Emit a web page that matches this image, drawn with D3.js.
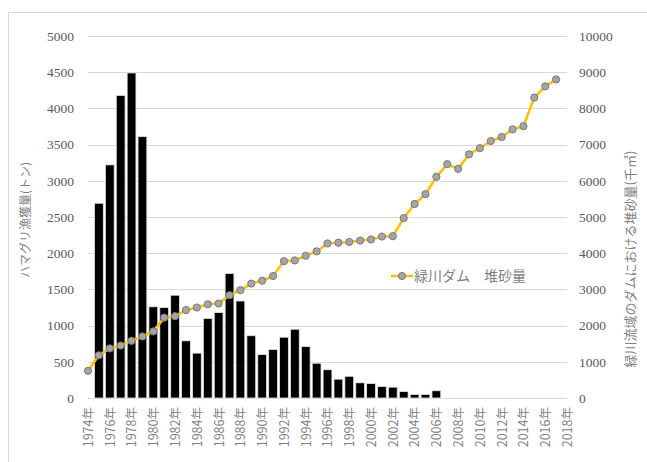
<!DOCTYPE html>
<html>
<head>
<meta charset="utf-8">
<script src="https://cdn.jsdelivr.net/npm/d3@7/dist/d3.min.js"></script>
<style>
  html, body { margin: 0; padding: 0; background: #fff; }
  svg { display: block; }
</style>
</head>
<body>
<svg id="chart" width="647" height="462"></svg>
<script>
// Years on the category axis
const years = d3.range(1974, 2019);

// Clam catch (tonnes), 1975–2006
const catchYears = d3.range(1975, 2007);
const catchTons = [
  2690, 3220, 4180, 4490, 3610, 1260, 1250, 1420, 790, 620,
  1100, 1180, 1720, 1340, 860, 600, 670, 840, 950, 710,
  480, 390, 260, 300, 210, 200, 160, 150, 90, 50,
  50, 100
];

// Accumulated dam sediment (thousand m³), 1974–2017
const sedimentYears = d3.range(1974, 2018);
const sediment = [
  750, 1180, 1370, 1450, 1580, 1700, 1840, 2220, 2260, 2430,
  2500, 2590, 2610, 2840, 2980, 3160, 3240, 3370, 3780, 3800,
  3930, 4050, 4270, 4290, 4310, 4350, 4380, 4460, 4470, 4970,
  5360, 5630, 6110, 6460, 6330, 6730, 6900, 7100, 7210, 7420,
  7510, 8300, 8610, 8800
];

const leftTicks = d3.range(0, 5001, 500);
const rightTicks = d3.range(0, 10001, 1000);
const labelYears = years.filter(y => y % 2 === 0);

const leftTitle = "ハマグリ漁獲量(トン)";
const rightTitle = "緑川流域のダムにおける堆砂量(千㎥)";
const legendLabel = "緑川ダム　堆砂量";

const svg = d3.select("#chart");
const plot = { left: 88, right: 567, top: 36, bottom: 398 };

const x = d3.scalePoint().domain(years).range([plot.left, plot.right]);
const yL = d3.scaleLinear().domain([0, 5000]).range([plot.bottom, plot.top]);
const yR = d3.scaleLinear().domain([0, 10000]).range([plot.bottom, plot.top]);

const serif = "'Liberation Serif', 'Times New Roman', serif";
const jp = "'Noto Sans CJK JP', 'Noto Sans', sans-serif";

// chart frame
svg.append("rect")
  .attr("x", 8.5).attr("y", 12.5)
  .attr("width", 660).attr("height", 480)
  .attr("fill", "none").attr("stroke", "#d9d9d9");

// horizontal gridlines
svg.append("g")
  .selectAll("line")
  .data(leftTicks)
  .join("line")
  .attr("x1", plot.left).attr("x2", plot.right)
  .attr("y1", d => Math.round(yL(d)) + 0.5)
  .attr("y2", d => Math.round(yL(d)) + 0.5)
  .attr("stroke", "#d9d9d9").attr("stroke-width", 1);

// left axis labels
const gL = svg.append("g")
  .attr("transform", `translate(${plot.left - 14},0)`)
  .call(d3.axisLeft(yL).tickValues(leftTicks).tickSize(0).tickPadding(0).tickFormat(d3.format("d")));
gL.select(".domain").remove();
gL.selectAll("text")
  .attr("font-family", serif).attr("font-size", 13.5).attr("fill", "#595959");

// right axis labels
const gR = svg.append("g")
  .attr("transform", `translate(${plot.right + 12},0)`)
  .call(d3.axisRight(yR).tickValues(rightTicks).tickSize(0).tickPadding(0).tickFormat(d3.format("d")));
gR.select(".domain").remove();
gR.selectAll("text")
  .attr("font-family", serif).attr("font-size", 13.5).attr("fill", "#595959");

// bottom axis labels
const gX = svg.append("g")
  .attr("transform", `translate(0,${plot.bottom})`)
  .call(d3.axisBottom(x).tickValues(labelYears).tickSize(0).tickFormat(d => d + "年"));
gX.select(".domain").remove();
gX.selectAll("text")
  .attr("font-family", jp).attr("font-size", 12.5).attr("fill", "#7f7f7f")
  .attr("text-anchor", "end")
  .attr("transform", "rotate(-90)")
  .attr("x", -9).attr("y", 0).attr("dy", "0.35em");

// catch bars
const barW = 8.8;
svg.append("g")
  .selectAll("rect")
  .data(catchYears.map((yr, i) => ({ yr, v: catchTons[i] })))
  .join("rect")
  .attr("x", d => x(d.yr) - barW / 2)
  .attr("y", d => yL(d.v))
  .attr("width", barW)
  .attr("height", d => yL(0) - yL(d.v))
  .attr("fill", "#000")
  .attr("stroke", "#e6e6e6").attr("stroke-width", 0.8);

// sediment line
const pts = sedimentYears.map((yr, i) => ({ yr, v: sediment[i] }));
svg.append("path")
  .datum(pts)
  .attr("fill", "none")
  .attr("stroke", "#FFC000").attr("stroke-width", 2.6)
  .attr("stroke-linejoin", "round")
  .attr("d", d3.line().x(d => x(d.yr)).y(d => yR(d.v)));

svg.append("g")
  .selectAll("circle")
  .data(pts)
  .join("circle")
  .attr("cx", d => x(d.yr))
  .attr("cy", d => yR(d.v))
  .attr("r", 3.6)
  .attr("fill", "#a5a5a5")
  .attr("stroke", "#7a7a7a").attr("stroke-width", 1);

// legend
const lg = svg.append("g").attr("transform", "translate(391,276)");
lg.append("line").attr("x1", 0).attr("x2", 22).attr("y1", 0).attr("y2", 0)
  .attr("stroke", "#FFC000").attr("stroke-width", 2.6);
lg.append("circle").attr("cx", 11).attr("cy", 0).attr("r", 3.6)
  .attr("fill", "#a5a5a5").attr("stroke", "#7a7a7a").attr("stroke-width", 1);
lg.append("text").attr("x", 23).attr("y", 0).attr("dy", "0.35em")
  .attr("font-family", jp).attr("font-size", 14).attr("fill", "#7f7f7f")
  .text(legendLabel);

// axis titles
svg.append("text")
  .attr("transform", "translate(26,220) rotate(-90)")
  .attr("text-anchor", "middle").attr("dy", "0.35em")
  .attr("font-family", jp).attr("font-size", 12).attr("fill", "#7f7f7f")
  .text(leftTitle);

svg.append("text")
  .attr("transform", "translate(630,259) rotate(-90)")
  .attr("text-anchor", "middle").attr("dy", "0.35em")
  .attr("font-family", jp).attr("font-size", 13).attr("fill", "#7f7f7f")
  .text(rightTitle);
</script>
</body>
</html>
